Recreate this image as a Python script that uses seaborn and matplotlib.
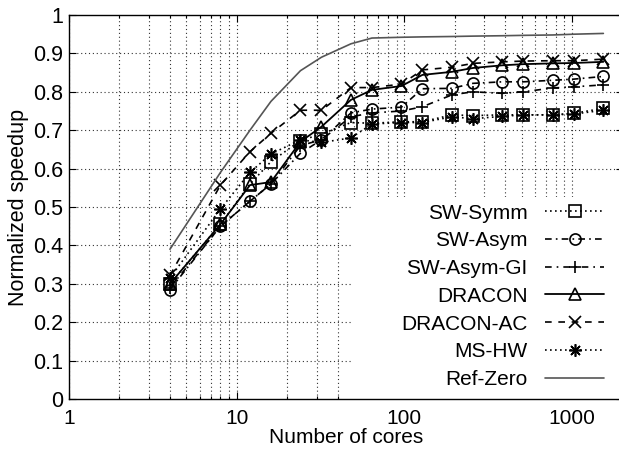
import numpy as np
import pandas as pd
import matplotlib
matplotlib.use("Agg")
import matplotlib.pyplot as plt
import seaborn as sns
from matplotlib.ticker import FixedLocator, NullFormatter, FuncFormatter
from matplotlib.patches import Rectangle

# ---------------- data ----------------
cores = [4, 8, 12, 16, 24, 32, 48, 64, 96, 128, 192, 256, 384, 512, 768, 1024, 1536]

sw_symm = [0.300, 0.455, 0.560, 0.618, 0.673, 0.690, 0.720, 0.718, 0.722, 0.722,
           0.740, 0.738, 0.740, 0.740, 0.740, 0.744, 0.757]
sw_asym = [0.285, 0.450, 0.515, 0.560, 0.640, 0.675, 0.745, 0.755, 0.760, 0.808,
           0.809, 0.822, 0.826, 0.826, 0.830, 0.833, 0.840]
sw_asym_gi = [0.290, 0.450, 0.515, 0.560, 0.660, 0.675, 0.735, 0.745, 0.750, 0.761,
              0.792, 0.800, 0.796, 0.800, 0.810, 0.813, 0.818]
dracon = [0.300, 0.455, 0.557, 0.565, 0.670, 0.709, 0.779, 0.805, 0.815, 0.844,
          0.852, 0.862, 0.869, 0.872, 0.874, 0.875, 0.878]
dracon_ac = [0.322, 0.557, 0.644, 0.692, 0.752, 0.752, 0.811, 0.811, 0.820, 0.857,
             0.864, 0.874, 0.878, 0.880, 0.881, 0.881, 0.885]
ms_hw = [0.315, 0.495, 0.590, 0.638, 0.675, 0.668, 0.680, 0.716, 0.720, 0.720,
         0.735, 0.730, 0.736, 0.740, 0.740, 0.742, 0.752]
ref_zero = [0.39, 0.59, 0.70, 0.775, 0.855, 0.89, 0.925, 0.94, 0.942, 0.943,
            0.944, 0.945, 0.946, 0.947, 0.948, 0.950, 0.952]

series_names = ["SW-Symm", "SW-Asym", "SW-Asym-GI", "DRACON", "DRACON-AC", "MS-HW", "Ref-Zero"]
series_values = [sw_symm, sw_asym, sw_asym_gi, dracon, dracon_ac, ms_hw, ref_zero]

x_major = [1, 10, 100, 1000]
x_major_labels = ["1", "10", "100", "1000"]
y_ticks = [0, 0.1, 0.2, 0.3, 0.4, 0.5, 0.6, 0.7, 0.8, 0.9, 1.0]
x_label = "Number of cores"
y_label = "Normalized speedup"

# ---------------- styles ----------------
styles = {
    "SW-Symm":    dict(marker="s", ms=8, linestyle=(0, (1, 2)), color="black", lw=1.2),
    "SW-Asym":    dict(marker="o", ms=8, linestyle=(0, (4, 2.5, 1, 2.5)), color="black", lw=1.2),
    "SW-Asym-GI": dict(marker="+", ms=9, linestyle=(0, (4, 3, 1, 3)), color="black", lw=1.2),
    "DRACON":     dict(marker="^", ms=8, linestyle="-", color="black", lw=1.3),
    "DRACON-AC":  dict(marker="x", ms=9, linestyle=(0, (4, 4)), color="black", lw=1.2),
    "MS-HW":      dict(marker=(8, 2, 0), ms=9, linestyle=(0, (1, 2)), color="black", lw=1.2),
    "Ref-Zero":   dict(marker=None, ms=0, linestyle="-", color="#555555", lw=1.2),
}

sns.set_style("ticks")
plt.rcParams["font.family"] = ["Liberation Sans", "DejaVu Sans"]
plt.rcParams.update({"text.color": "black", "axes.labelcolor": "black",
                     "xtick.color": "black", "ytick.color": "black"})

W, H = 619, 453
fig = plt.figure(figsize=(W / 100, H / 100), dpi=100)
ax = fig.add_axes([69 / W, 54 / H, 553.6 / W, 384 / H])
ax.set_xscale("log")
ax.set_xlim(1, 2000)
ax.set_ylim(0, 1)

# grid (dotted), drawn from tick positions
minor_x = [m * 10 ** k for k in range(0, 4) for m in range(2, 10) if m * 10 ** k < 2000]
for v in x_major + minor_x:
    ax.axvline(v, color="#333333", lw=0.8, dashes=(1.0, 2.5), zorder=0.5)
for v in y_ticks[1:-1]:
    ax.axhline(v, color="#333333", lw=0.8, dashes=(1.0, 2.5), zorder=0.5)

# opaque key area
ax.add_patch(Rectangle((0.511, 0.0), 0.489, 0.526, transform=ax.transAxes,
                       facecolor="white", edgecolor="none", zorder=0.8))

for name, vals in zip(series_names, series_values):
    st = styles[name]
    df = pd.DataFrame({"cores": cores, "speedup": vals})
    kw = dict(color=st["color"], linestyle=st["linestyle"], lw=st["lw"], zorder=2)
    if st["marker"] is not None:
        kw.update(marker=st["marker"], markersize=st["ms"], markerfacecolor="none",
                  markeredgecolor="black", markeredgewidth=1.2)
    sns.lineplot(data=df, x="cores", y="speedup", ax=ax, label=name, **kw)

ax.xaxis.set_major_locator(FixedLocator(x_major))
ax.xaxis.set_major_formatter(FuncFormatter(lambda v, p: x_major_labels[x_major.index(v)] if v in x_major else ""))
ax.xaxis.set_minor_locator(FixedLocator(minor_x))
ax.xaxis.set_minor_formatter(NullFormatter())
ax.yaxis.set_major_locator(FixedLocator(y_ticks))
ax.yaxis.set_major_formatter(FuncFormatter(lambda v, p: f"{round(v, 1):g}"))

ax.tick_params(which="both", direction="in", top=True, right=True, colors="black", width=0.8)
ax.tick_params(which="major", length=5)
ax.tick_params(which="minor", length=2.5)
ax.tick_params(axis="x", which="major", labelsize=15, pad=7.5)
ax.tick_params(axis="y", which="major", labelsize=15.5, pad=4)

for s in ax.spines.values():
    s.set_color("black")
    s.set_linewidth(1.0)

ax.set_xlabel(x_label, fontsize=15, labelpad=0)
ax.set_ylabel(y_label, fontsize=15.5, labelpad=3)

handles, labels = ax.get_legend_handles_labels()
leg = ax.legend(handles, labels, loc="lower right", bbox_to_anchor=(0.966, 0.026),
                frameon=False, markerfirst=False, handlelength=2.8, handletextpad=0.85,
                labelspacing=0.42, fontsize=15, borderpad=0, borderaxespad=0)
for t in leg.get_texts():
    t.set_color("black")

fig.savefig("out.png", dpi=100)
